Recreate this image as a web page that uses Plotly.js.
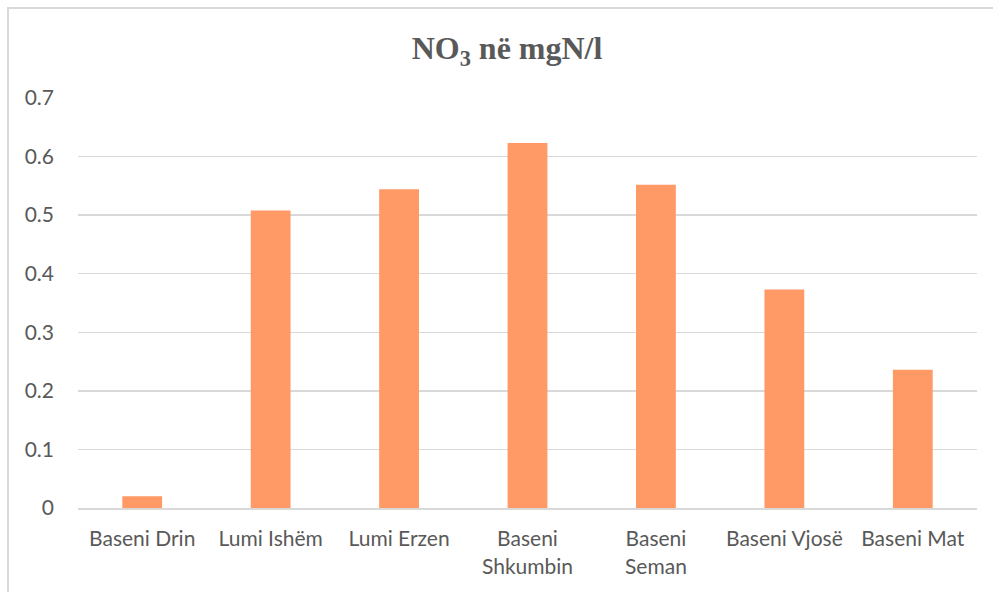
<!DOCTYPE html>
<html>
<head>
<meta charset="utf-8">
<script src="https://cdn.plot.ly/plotly-3.0.1.min.js"></script>
<style>
  html, body { margin: 0; padding: 0; background: #fff; }
  #wrap { position: relative; width: 993px; height: 592px; overflow: hidden; }
  #chart { width: 993px; height: 592px; }
  /* thin frame around the chart area */
  #frame { position: absolute; left: 7px; top: 7px; width: 1000px; height: 600px;
           border-left: 2px solid #D9D9D9; border-top: 2px solid #D9D9D9;
           pointer-events: none; }
</style>
</head>
<body>
<div id="wrap">
  <div id="chart"></div>
  <div id="frame"></div>
</div>
<script>
// NO3 concentration (mgN/l) by river basin
const categories = [
  "Baseni Drin",
  "Lumi Ishëm",
  "Lumi Erzen",
  "Baseni<br>Shkumbin",
  "Baseni<br>Seman",
  "Baseni Vjosë",
  "Baseni Mat"
];
const no3Values = [0.02, 0.508, 0.544, 0.623, 0.552, 0.373, 0.236];
const yTickValues = [0, 0.1, 0.2, 0.3, 0.4, 0.5, 0.6, 0.7];
const yTickLabels = ["0", "0.1", "0.2", "0.3", "0.4", "0.5", "0.6", "0.7"];

const textColor = "#595959";
const labelFont = "Lato, 'Open Sans', sans-serif";

const trace = {
  type: "bar",
  x: categories,
  y: no3Values,
  marker: { color: "#FF9966", line: { width: 0 } },
  hoverinfo: "x+y"
};

const layout = {
  width: 993,
  height: 592,
  margin: { l: 78, r: 16, t: 98, b: 84 },
  paper_bgcolor: "#FFFFFF",
  plot_bgcolor: "#FFFFFF",
  bargap: 0.69,
  showlegend: false,
  font: { family: labelFont, size: 21, color: textColor },
  title: {
    text: "NO<sub>3</sub> në mgN/l",
    font: { family: "'Liberation Serif', 'Times New Roman', serif", size: 32, color: textColor, weight: "bold" },
    x: 507 / 993,
    xref: "container",
    xanchor: "center",
    y: 1 - 48 / 592,
    yref: "container",
    yanchor: "middle"
  },
  xaxis: {
    type: "category",
    showgrid: false,
    showline: true,
    linecolor: "#D9D9D9",
    linewidth: 2,
    ticks: "",
    tickangle: 0,
    ticklabelstandoff: 11,
    tickfont: { family: labelFont, size: 21, color: textColor },
    fixedrange: true
  },
  yaxis: {
    range: [0, 0.7],
    tickmode: "array",
    tickvals: yTickValues,
    ticktext: yTickLabels,
    showgrid: true,
    gridcolor: "#D9D9D9",
    gridwidth: 1.5,
    zeroline: false,
    showline: false,
    ticks: "",
    ticklabelstandoff: 23,
    tickfont: { family: labelFont, size: 21, color: textColor },
    fixedrange: true
  }
};

Plotly.newPlot("chart", [trace], layout, { displayModeBar: false, staticPlot: true });
</script>
</body>
</html>
